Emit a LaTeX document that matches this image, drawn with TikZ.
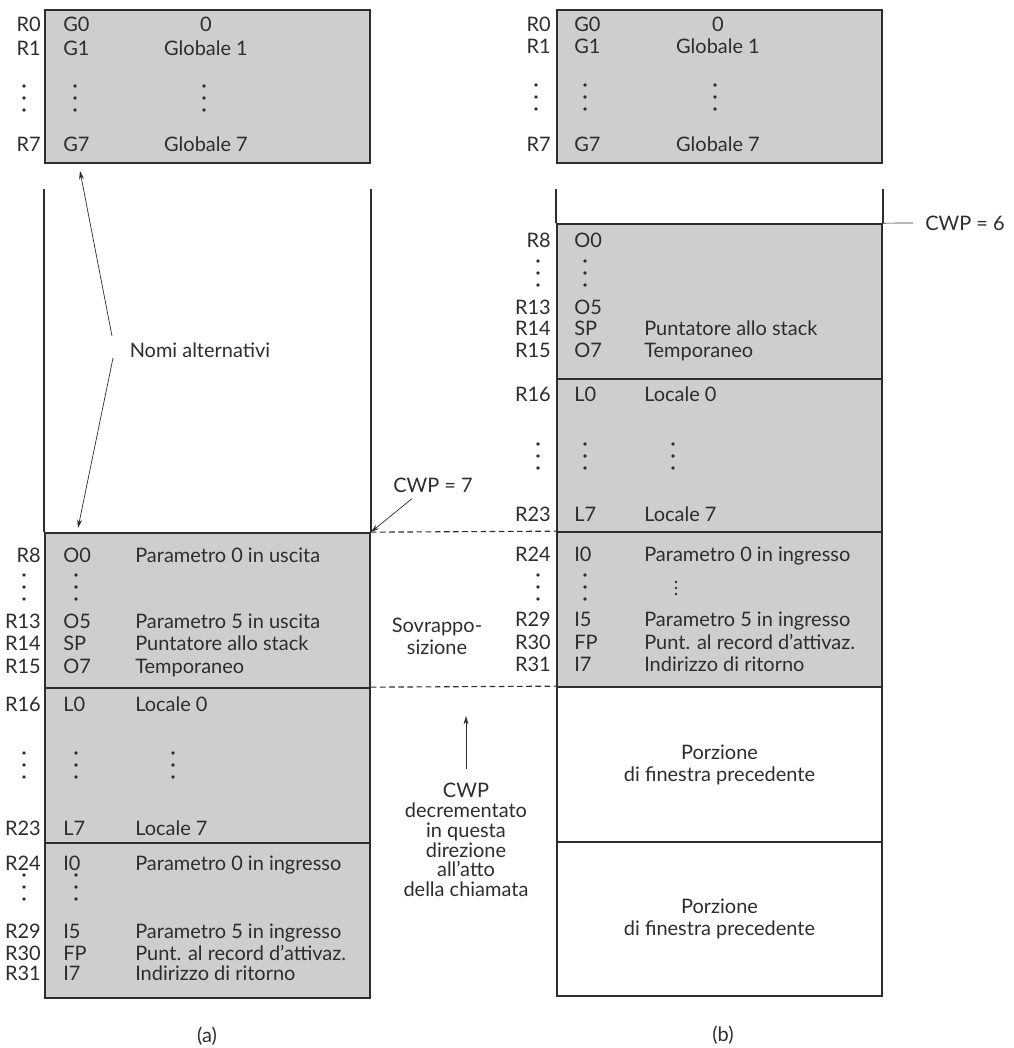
\documentclass[tikz,border=0pt]{standalone}
\usepackage{fontspec}
\setmainfont{Lato}
\usetikzlibrary{arrows.meta, positioning, fit, calc}
\definecolor{regink}{RGB}{45,45,45}
\definecolor{regline}{RGB}{45,45,45}
\definecolor{regfill}{RGB}{206,206,206}
\newcommand{\regfont}{\fontsize{14.2}{15.6}\selectfont}

\begin{document}
\begin{tikzpicture}[
  x=0.025cm, y=-0.025cm,
  win/.style={draw=regline, line width=1.2pt, fill=regfill, inner sep=0pt},
  prev/.style={draw=regline, line width=1.2pt, fill=white, inner sep=0pt},
  wall/.style={regline, line width=1.2pt},
  reg/.style={anchor=mid east, inner sep=0pt, font=\regfont, text=regink},
  alias/.style={anchor=mid west, inner sep=0pt, font=\regfont, text=regink},
  desc/.style={anchor=mid west, inner sep=0pt, font=\regfont, text=regink},
  gdesc/.style={anchor=mid, inner sep=0pt, font=\regfont, text=regink},
  note/.style={align=center, inner sep=0pt, font=\regfont, text=regink},
  overlap/.style={regline, line width=0.8pt, dash pattern=on 4pt off 2.5pt},
  ptr/.style={regline, line width=0.5pt, -{Stealth[length=6pt, width=3.5pt]}},
]
  \useasboundingbox (0,0) rectangle (1014,1048);

  % ── Window (a): boxes ──
  \node[win, fit={(45,10) (370,163)}] (globA) {};
  \node[win, fit={(45,533) (370,688)}] (outsA) {};
  \node[win, fit={(45,688) (370,843)}] (locA) {};
  \node[win, fit={(45,843) (370,998)}] (insA) {};
  \draw[wall] (outsA.north west) -- ++(0,-343);
  \draw[wall] (outsA.north east) -- ++(0,-343);

  % ── Window (b): boxes ──
  \node[win, fit={(557,10) (882,163)}] (globB) {};
  \node[win, fit={(557,224) (882,379)}] (outsB) {};
  \node[win, fit={(557,379) (882,532)}] (locB) {};
  \node[win, fit={(557,532) (882,687)}] (insB) {};
  \node[prev, fit={(557,687) (882,842)}] (prevB) {};
  \node[prev, fit={(557,842) (882,996)}] (prevC) {};
  \draw[wall] (outsB.north west) -- ++(0,-34);
  \draw[wall] (outsB.north east) -- ++(0,-34);

  % ── Registers (a) ──
  \foreach \y/\r/\a/\d in {28/R0/G0/0, 52/R1/G1/Globale 1, 148/R7/G7/Globale 7} {
    \node[reg] (a-\r) at (41,\y) {\r};
    \node[alias] (a-\a) at (63,\y) {\a};
    \node[gdesc] (a-d\y) at (206,\y) {\d};
  }
  \foreach \y/\r/\a/\d in {559/R8/O0/{Parametro 0 in uscita}, 625/R13/O5/{Parametro 5 in uscita},
      647/R14/SP/{Puntatore allo stack}, 670/R15/O7/Temporaneo,
      708/R16/L0/{Locale 0}, 832/R23/L7/{Locale 7},
      867/R24/I0/{Parametro 0 in ingresso}, 935/R29/I5/{Parametro 5 in ingresso},
      957/R30/FP/{Punt. al record d'attivaz.}, 977/R31/I7/{Indirizzo di ritorno}} {
    \node[reg] (a-\r) at (41,\y) {\r};
    \node[alias] (a-\a) at (63,\y) {\a};
    \node[desc] (a-d\y) at (135,\y) {\d};
  }

  % ── Registers (b) ──
  \foreach \y/\r/\a/\d in {28/R0/G0/0, 50/R1/G1/Globale 1, 148/R7/G7/Globale 7} {
    \node[reg] (b-\r) at (551,\y) {\r};
    \node[alias] (b-\a) at (574,\y) {\a};
    \node[gdesc] (b-d\y) at (718,\y) {\d};
  }
  \foreach \y/\r/\a/\d in {244/R8/O0/{}, 311/R13/O5/{},
      332/R14/SP/{Puntatore allo stack}, 354/R15/O7/Temporaneo,
      398/R16/L0/{Locale 0}, 518/R23/L7/{Locale 7},
      558/R24/I0/{Parametro 0 in ingresso}, 623/R29/I5/{Parametro 5 in ingresso},
      646/R30/FP/{Punt. al record d'attivaz.}, 668/R31/I7/{Indirizzo di ritorno}} {
    \node[reg] (b-\r) at (551,\y) {\r};
    \node[alias] (b-\a) at (574,\y) {\a};
    \node[desc] (b-d\y) at (644,\y) {\d};
  }

  % ── Vertical dots ──
  \foreach \x/\y in {24/98, 75/98, 204/98, 24/587, 76/587, 24/765, 76/765, 173/765,
      24/887, 76/887, 536/97, 585/97, 715/97, 538/273, 585/273,
      538/456, 585/456, 673/456, 538/587, 585/587} {
    \foreach \d in {-12,0,12}
      \fill[regink] (\x,\y+\d) circle (1.4pt);
  }
  \foreach \d in {-6,0,6}
    \fill[regink] (676,588+\d) circle (0.9pt);

  % ── Previous window portions ──
  \node[note] (prevB-t) at (prevB.center) {Porzione\\di finestra precedente};
  \node[note] (prevC-t) at (prevC.center) {Porzione\\di finestra precedente};

  % ── Overlap ──
  \draw[overlap] (outsA.north east) -- (insB.north west);
  \draw[overlap] (locA.north east) -- (prevB.north west);
  \node[note] (ovl) at (437,636) {Sovrappo-\\sizione};

  % ── Pointers and notes ──
  \node[note] (alt) at (200,350) {Nomi alternativi};
  \coordinate (altTop) at (80,171);
  \coordinate (altBot) at (78,528);
  \draw[ptr] (112,336) -- (altTop);
  \draw[ptr] (113,358) -- (altBot);

  \node[note] (cwpA) at (433,485) {CWP = 7};
  \draw[ptr] ($(cwpA.south)+(-21,6)$) -- (outsA.north east);

  \node[note, anchor=west] (cwpB) at (925,223) {CWP = 6};
  \draw[regline, line width=0.5pt] (outsB.north east) -- ($(cwpB.west)+(-12,0)$);

  \node[note, font=\fontsize{14.2}{14}\selectfont] (dec) at (466,840)
    {CWP\\decrementato\\in questa\\direzione\\all'atto\\della chiamata};
  \coordinate (decTip) at (466,716);
  \draw[ptr] ($(dec.north)+(0,-14)$) -- (decTip);

  % ── Captions ──
  \node[note] (capA) at (207,1036) {(a)};
  \node[note] (capB) at (723,1035) {(b)};
\end{tikzpicture}
\end{document}
